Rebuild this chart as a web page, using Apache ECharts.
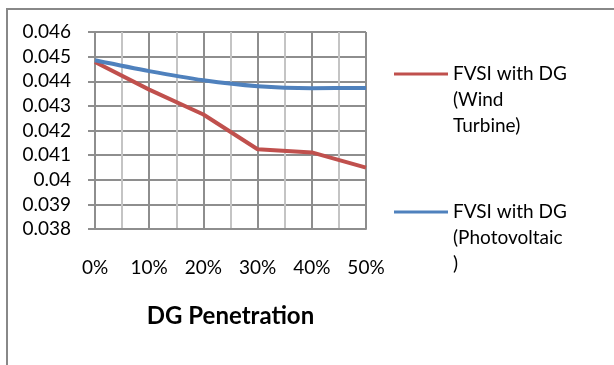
<!DOCTYPE html>
<html>
<head>
<meta charset="utf-8">
<script src="https://cdn.jsdelivr.net/npm/echarts@6/dist/echarts.min.js"></script>
<style>
  html, body { margin: 0; padding: 0; background: #fff; }
  #chart { width: 614px; height: 365px; }
</style>
</head>
<body>
<div id="chart"></div>
<script>
// DG penetration levels (%)
const penetration = [0, 10, 20, 30, 40, 50];
// FVSI values for each penetration level
const fvsiWind = [0.04478, 0.04366, 0.04265, 0.04124, 0.04111, 0.04049];
const fvsiPV = [0.04485, 0.04441, 0.04404, 0.04380, 0.04372, 0.04373];
const seriesNames = ['FVSI with DG (Wind Turbine)', 'FVSI with DG (Photovoltaic)'];
// legend text broken over lines, with leading blanks so the icon sits on the first line
const legendText = {
  'FVSI with DG (Wind Turbine)': '\n\nFVSI with DG\n(Wind\nTurbine)',
  'FVSI with DG (Photovoltaic)': '\n\nFVSI with DG\n(Photovoltaic\n)'
};

const FONT = 'Lato';
const toPairs = (xs, ys) => xs.map((x, i) => [x, ys[i]]);

const chart = echarts.init(document.getElementById('chart'), null, { renderer: 'canvas' });
chart.setOption({
  backgroundColor: '#fff',
  animation: false,
  textStyle: { fontFamily: FONT },
  graphic: [{
    type: 'rect',
    shape: { x: 7, y: 9, width: 700, height: 500 },
    style: { fill: 'none', stroke: '#888', lineWidth: 2 },
    silent: true
  }],
  grid: { left: 95, right: 248, top: 32, bottom: 136 },
  legend: {
    orient: 'vertical',
    left: 394,
    top: 9,
    padding: 0,
    itemGap: 8,
    icon: 'rect',
    itemWidth: 54,
    itemHeight: 3,
    data: seriesNames,
    formatter: name => legendText[name],
    textStyle: { fontFamily: FONT, fontSize: 19, color: '#000', lineHeight: 26 }
  },
  xAxis: {
    type: 'value',
    min: 0,
    max: 50,
    interval: 10,
    name: 'DG Penetration',
    nameLocation: 'middle',
    nameGap: 75,
    nameTextStyle: { fontFamily: FONT, fontSize: 24, fontWeight: 'bold', color: '#000' },
    axisLine: { show: true, lineStyle: { color: '#8e8e8e', width: 2 } },
    axisTick: { show: false },
    axisLabel: { formatter: '{value}%', fontFamily: FONT, fontSize: 19, color: '#000', margin: 29 },
    splitLine: { show: true, lineStyle: { color: '#8e8e8e', width: 2 } },
    minorTick: { show: false, splitNumber: 2 },
    minorSplitLine: { show: true, lineStyle: { color: '#c4c4c4', width: 2 } }
  },
  yAxis: {
    type: 'value',
    min: 0.038,
    max: 0.046,
    interval: 0.001,
    axisLine: { show: true, lineStyle: { color: '#8e8e8e', width: 2 } },
    axisTick: { show: true, length: 7, lineStyle: { color: '#8e8e8e', width: 2 } },
    axisLabel: { fontFamily: FONT, fontSize: 19, color: '#000', margin: 24 },
    splitLine: { show: true, lineStyle: { color: '#8e8e8e', width: 2 } }
  },
  series: [
    {
      name: seriesNames[0],
      type: 'line',
      data: toPairs(penetration, fvsiWind),
      symbol: 'none',
      lineStyle: { color: '#C0504D', width: 4 },
      itemStyle: { color: '#C0504D' }
    },
    {
      name: seriesNames[1],
      type: 'line',
      data: toPairs(penetration, fvsiPV),
      symbol: 'none',
      smooth: 0.3,
      lineStyle: { color: '#4F81BD', width: 4 },
      itemStyle: { color: '#4F81BD' }
    }
  ]
});
</script>
</body>
</html>
